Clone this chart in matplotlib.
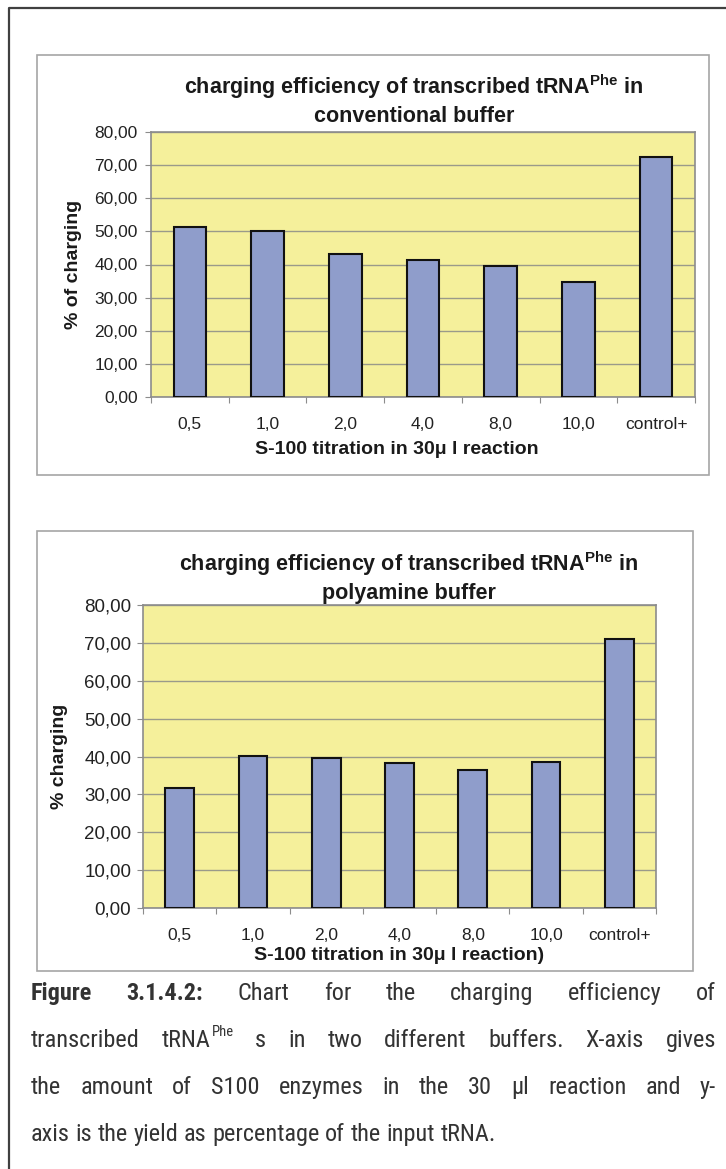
import os
import matplotlib
matplotlib.use("Agg")
import matplotlib.pyplot as plt
from matplotlib import font_manager as fm
from matplotlib.lines import Line2D
from matplotlib.patches import Rectangle

plt.rcParams['font.family'] = ['Liberation Sans', 'DejaVu Sans']
plt.rcParams['mathtext.fontset'] = 'custom'
plt.rcParams['mathtext.rm'] = 'Liberation Sans'

# data
categories = ['0,5', '1,0', '2,0', '4,0', '8,0', '10,0', 'control+']
conventional = [51.4, 50.2, 43.2, 41.5, 39.5, 34.8, 72.6]
polyamine = [31.6, 40.2, 39.5, 38.2, 36.4, 38.5, 70.9]
yticks = [0, 10, 20, 30, 40, 50, 60, 70, 80]
ytick_labels = ['0,00', '10,00', '20,00', '30,00', '40,00', '50,00', '60,00', '70,00', '80,00']

W, H = 726, 1169
fig = plt.figure(figsize=(W / 100, H / 100), dpi=100)

def fx(x):
    return x / W

def fy(y):
    return 1 - y / H

bar_col = '#8f9dcb'
bg_col = '#f5f09b'
grid_col = '#9a9a8a'
axis_col = '#8c8c8c'
txt_col = '#1a1a1a'

# outer frame (left and top)
fig.add_artist(Line2D([fx(9), fx(9), 1.0], [0.0, fy(8), fy(8)], color='#404040', lw=1.6))

def chart(box, plot, values, bw, title2, title_x, title_y, ylab, ylab_x,
          xlab, xlab_x, xlab_y, cat_y, ysize, ypad):
    bx0, by0, bx1, by1 = box
    fig.add_artist(Rectangle((fx(bx0), fy(by1)), fx(bx1 - bx0), (by1 - by0) / H,
                             fill=False, ec='#a6a6a6', lw=1.2))
    px0, py0, px1, py1 = plot
    ax = fig.add_axes([fx(px0), fy(py1), fx(px1 - px0), (py1 - py0) / H])
    ax.set_facecolor(bg_col)
    x = range(len(categories))
    ax.bar(x, values, width=bw, color=bar_col, edgecolor='#111111', lw=1.5, zorder=3)
    ax.set_xlim(-0.5, len(categories) - 0.5)
    ax.set_ylim(0, 80)
    ax.set_yticks(yticks)
    ax.set_yticklabels(ytick_labels, fontsize=ysize, color='#222222')
    ax.grid(axis='y', color=grid_col, lw=1.0, zorder=1)
    ax.set_xticks([i - 0.5 for i in range(len(categories) + 1)])
    ax.set_xticklabels([])
    ax.tick_params(axis='x', length=4, color=axis_col, direction='out')
    ax.tick_params(axis='y', length=4, color=axis_col, direction='out', pad=ypad)
    cat_w = (px1 - px0) / len(categories)
    for i, c in enumerate(categories):
        fig.text(fx(px0 + cat_w * (i + 0.5)), fy(cat_y), c, ha='center', va='center',
                 fontsize=12.5, color='#222222')
    for s in ax.spines.values():
        s.set_color(axis_col)
        s.set_linewidth(1.2)
    fig.text(fx(title_x), fy(title_y),
             r'charging efficiency of transcribed tRNA$^{\mathregular{Phe}}$ in',
             ha='center', va='center', fontsize=15.5, fontweight='bold', color=txt_col)
    fig.text(fx(title_x), fy(title_y + 29), title2,
             ha='center', va='center', fontsize=15.5, fontweight='bold', color=txt_col)
    fig.text(fx(ylab_x), fy((py0 + py1) / 2), ylab, rotation=90, ha='center', va='center',
             fontsize=14, fontweight='bold', color=txt_col)
    fig.text(fx(xlab_x), fy(xlab_y), xlab, ha='center', va='center',
             fontsize=14, fontweight='bold', color=txt_col)
    return ax

chart((37, 55, 709, 475), (151, 132, 695, 397), conventional, 0.42, 'conventional buffer',
      414, 87, '% of charging', 73,
      'S-100 titration in 30\u03bc l reaction', 397, 450, 425, 12.5, 5.5)
chart((37, 531, 693, 971), (143, 605, 656, 908), polyamine, 0.39, 'polyamine buffer',
      409, 564, '% charging', 60,
      'S-100 titration in 30\u03bc l reaction)', 399, 956, 935, 13.5, 4.5)

# caption font: a narrow/condensed sans if one is installed
def find_font(names):
    files = {os.path.splitext(os.path.basename(f.fname))[0].lower(): f.fname
             for f in fm.fontManager.ttflist}
    for n in names:
        if n.lower() in files:
            return files[n.lower()]
    return None

reg_file = find_font(['LiberationSansNarrow-Regular', 'ArialNarrow', 'RobotoCondensed-Regular',
                      'DejaVuSansCondensed', 'NotoSans-Condensed', 'NotoSans-CondensedRegular',
                      'OpenSans_Condensed-Regular', 'OpenSans-CondensedRegular'])
bold_file = find_font(['LiberationSansNarrow-Bold', 'ArialNarrow-Bold', 'RobotoCondensed-Bold',
                       'DejaVuSansCondensed-Bold', 'NotoSans-CondensedBold',
                       'OpenSans_Condensed-Bold', 'OpenSans-CondensedBold'])

def cap_prop(bold, size):
    f = bold_file if bold else reg_file
    if f:
        return fm.FontProperties(fname=f, size=size)
    return fm.FontProperties(family='Liberation Sans', weight='bold' if bold else 'normal', size=size)

cap_col = '#333333'
caption = [
    ([('Figure', 1), ('3.1.4.2:', 1), ('Chart', 0), ('for', 0), ('the', 0),
      ('charging', 0), ('efficiency', 0), ('of', 0)], 1000, True),
    ([('transcribed', 0), ('tRNA', 2), ('s', 0), ('in', 0),
      ('two', 0), ('different', 0), ('buffers.', 0), ('X-axis', 0), ('gives', 0)], 1047, True),
    ([('the', 0), ('amount', 0), ('of', 0), ('S100', 0), ('enzymes', 0), ('in', 0),
      ('the', 0), ('30', 0), ('\u03bcl', 0), ('reaction', 0), ('and', 0), ('y-', 0)], 1094, True),
    ([('axis', 0), ('is', 0), ('the', 0), ('yield', 0), ('as', 0), ('percentage', 0),
      ('of', 0), ('the', 0), ('input', 0), ('tRNA.', 0)], 1141, False),
]
left, right = 31, 716
renderer = fig.canvas.get_renderer()

def width_of(s, prop):
    t = fig.text(0, 0, s, fontproperties=prop)
    w = t.get_window_extent(renderer).width
    t.remove()
    return w

# pick caption size so the second line fills the column with plain spaces
probe = cap_prop(False, 10)
line2 = 'transcribed tRNAPhe s in two different buffers. X-axis gives'
cap_size = min(17.5, 10 * (right - left) / width_of(line2, probe) * 1.01)

for words, y, justify in caption:
    items = []
    for w, kind in words:
        prop = cap_prop(kind == 1, cap_size)
        t = fig.text(0, fy(y), w, fontproperties=prop, color=cap_col, va='baseline', ha='left')
        wd = t.get_window_extent(renderer).width
        sup = None
        wd_t = wd
        if kind == 2:
            sup = fig.text(0, fy(y - cap_size * 0.62), 'Phe', fontproperties=cap_prop(False, cap_size * 0.6),
                           color=cap_col, va='baseline', ha='left')
            wd += sup.get_window_extent(renderer).width + 1
        items.append((t, sup, wd, wd_t))
    space = width_of('a b', cap_prop(False, cap_size)) - width_of('ab', cap_prop(False, cap_size))
    if justify:
        space = (right - left - sum(i[2] for i in items)) / (len(items) - 1)
    xpos = left
    for t, sup, wd, wd_t in items:
        t.set_x(fx(xpos))
        if sup is not None:
            sup.set_x(fx(xpos + wd_t + 1))
        xpos += wd + space

fig.savefig('out.png', dpi=100)
